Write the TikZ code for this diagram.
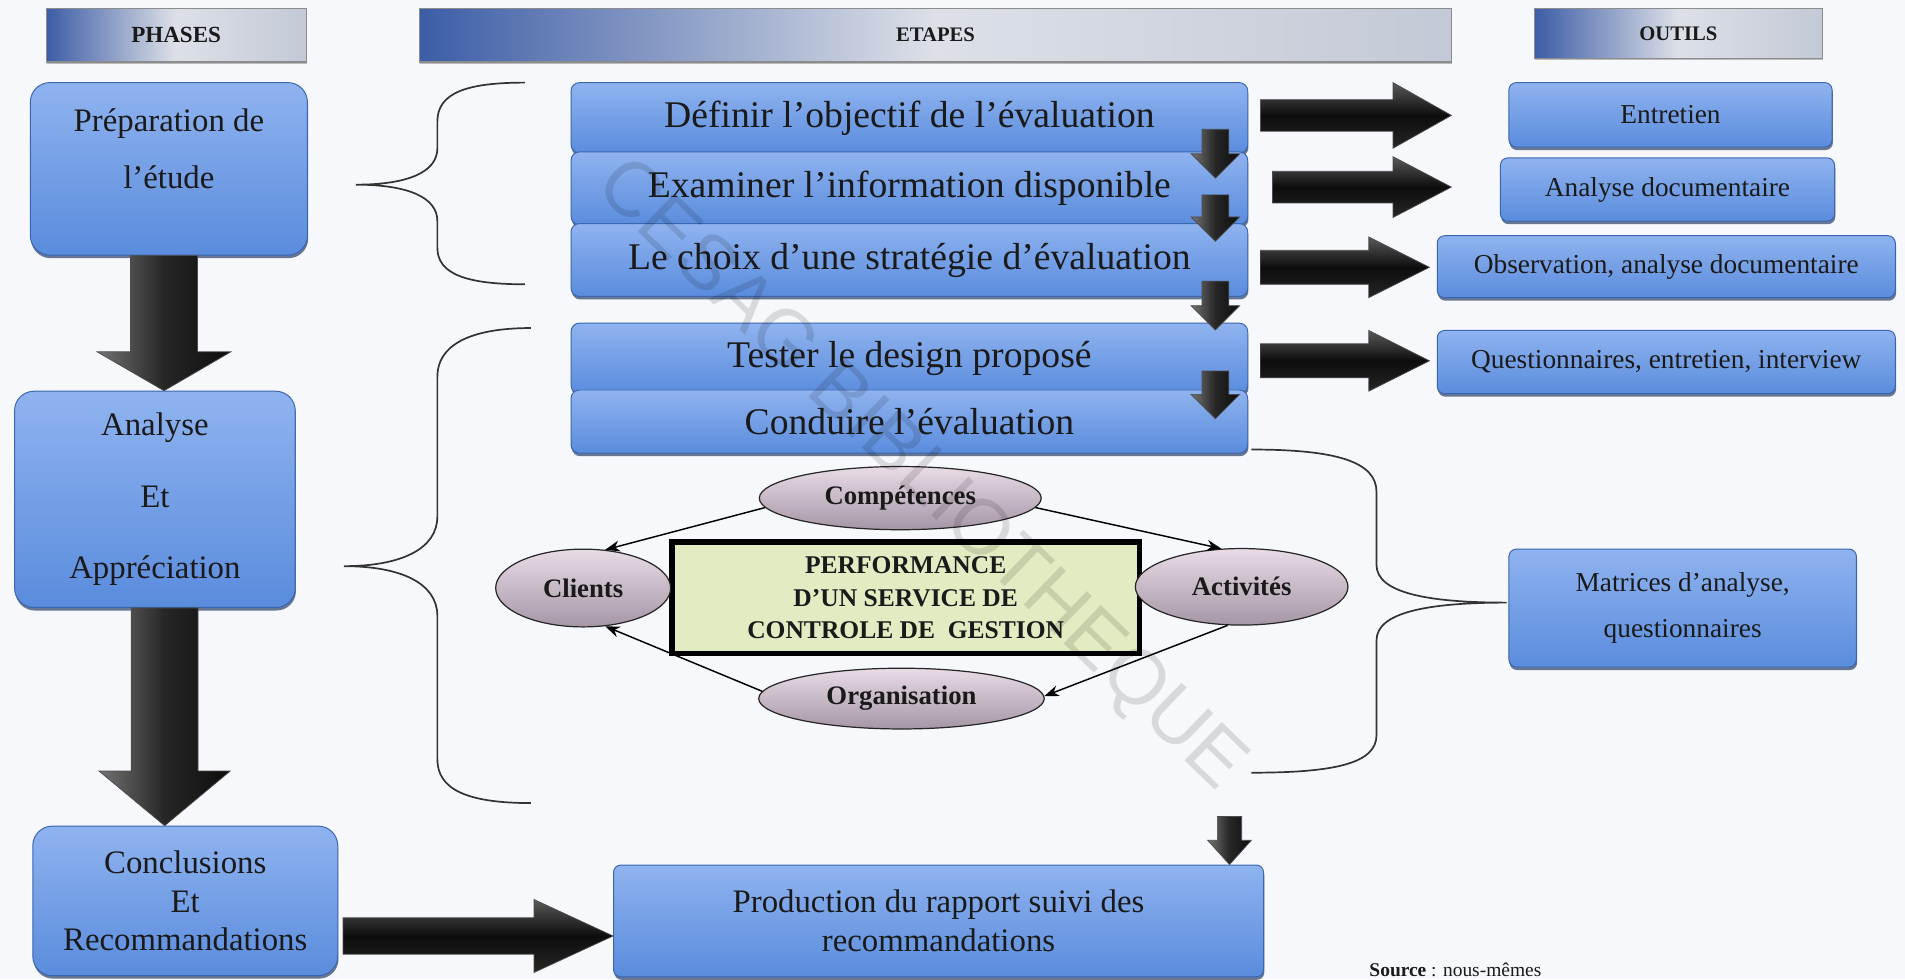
\documentclass[tikz,border=0pt]{standalone}
\usepackage{fontspec}
\setmainfont{Liberation Serif}
\newfontfamily\wmfont{Liberation Sans}
\usetikzlibrary{shapes.geometric,arrows.meta,shadows,calc}
\definecolor{bgcol}{HTML}{F6F8FB}
\definecolor{boxtop}{HTML}{8FB3EF}
\definecolor{boxbot}{HTML}{5A8CDD}
\definecolor{boxline}{HTML}{3A66B0}
\definecolor{shadowcol}{HTML}{2B3F66}
\definecolor{hdrblue}{HTML}{3C5DA6}
\definecolor{hdrlight}{HTML}{DDE0E7}
\definecolor{hdrgray}{HTML}{C3C9D6}
\definecolor{elltop}{HTML}{E8DCE7}
\definecolor{ellbot}{HTML}{A596A5}
\definecolor{perfgreen}{HTML}{E2ECC2}
\definecolor{txt}{HTML}{1A1A1A}
% block arrows: #2 start, #3 end, #4 shaft half width, #5 head half width, #6 head length
\newcommand{\blkdown}[6][varrow]{%
  \path[#1] let \p1=#2, \p2=#3 in
    (\x1-#4pt,\y1) -- (\x1-#4pt,\y2+#6pt) -- (\x1-#5pt,\y2+#6pt) -- (\x1,\y2)
    -- (\x1+#5pt,\y2+#6pt) -- (\x1+#4pt,\y2+#6pt) -- (\x1+#4pt,\y1) -- cycle;}
\newcommand{\blkright}[6][harrow]{%
  \path[#1] let \p1=#2, \p2=#3 in
    (\x1,\y1+#4pt) -- (\x2-#6pt,\y1+#4pt) -- (\x2-#6pt,\y1+#5pt) -- (\x2,\y1)
    -- (\x2-#6pt,\y1-#5pt) -- (\x2-#6pt,\y1-#4pt) -- (\x1,\y1-#4pt) -- cycle;}
\begin{document}
\begin{tikzpicture}[x=1pt,y=-1pt,
  every node/.style={text=txt},
  bluebox/.style={rectangle, draw=boxline, line width=0.8pt, top color=boxtop, bottom color=boxbot,
    inner sep=0pt, align=center,
    drop shadow={shadow xshift=0.6pt, shadow yshift=-2.5pt, fill=shadowcol, opacity=0.7}},
  phasebox/.style={bluebox, rounded corners=16pt},
  stepbox/.style={bluebox, rounded corners=7pt, minimum width=557pt, font=\fontsize{31}{34}\selectfont},
  toolbox/.style={bluebox, rounded corners=6pt, font=\fontsize{22.5}{38}\selectfont},
  hdr/.style={rectangle, draw=black!45, line width=1pt, left color=hdrblue, right color=hdrgray,
    middle color=hdrlight, inner sep=0pt, font=\bfseries\fontsize{17}{20}\selectfont,
    drop shadow={shadow xshift=0.5pt, shadow yshift=-1.5pt, fill=black!50, opacity=0.5}},
  ell/.style={ellipse, draw=black!85, line width=1pt, top color=elltop, bottom color=ellbot,
    inner sep=0pt, font=\bfseries\fontsize{22}{24}\selectfont},
  perf/.style={rectangle, draw=black, line width=4.5pt, fill=perfgreen, inner sep=0pt, align=center,
    font=\bfseries\fontsize{21}{26.5}\selectfont},
  link/.style={draw=black, line width=1.2pt, -{Stealth[length=12pt,width=9pt]}},
  brace/.style={draw=black!80, line width=1.4pt},
  varrow/.style={left color=black!55, right color=black!95, middle color=black!85, draw=black!70, line width=0.6pt},
  harrow/.style={top color=black!65, bottom color=black!85, middle color=black!95, draw=black!70, line width=0.6pt},
]
\useasboundingbox (0,0) rectangle (1568,806);
\fill[bgcol] (0,0) rectangle (1568,806);

% headers
\node[hdr, minimum width=214pt, minimum height=44pt, font=\bfseries\fontsize{19}{22}\selectfont] (hphase) at (145,29) {PHASES};
\node[hdr, minimum width=850pt, minimum height=44pt] (hetape) at (770,29) {ETAPES};
\node[hdr, minimum width=237pt, minimum height=41pt] (houtil) at (1381.5,27.5) {OUTILS};

% phases
\node[phasebox, minimum width=228pt, minimum height=142pt] (p1) at (139,139) {};
\node[align=center, inner sep=0pt, font=\fontsize{27}{47}\selectfont] (p1t) at (139,122.5) {Préparation de\\l’étude};
\node[phasebox, minimum width=231pt, minimum height=178pt, font=\fontsize{27}{59}\selectfont] (p2) at (127.5,411) {Analyse\\Et\\Appréciation};
\node[phasebox, minimum width=251pt, minimum height=123pt, font=\fontsize{27}{31.5}\selectfont] (p3) at (152.5,741.5) {Conclusions\\Et\\Recommandations};

% steps
\node[stepbox, minimum height=58pt] (s1) at (748.5,97) {Définir l’objectif de l’évaluation};
\node[stepbox, minimum height=60pt] (s2) at (748.5,155) {Examiner l’information disponible};
\node[stepbox, minimum height=60pt] (s3) at (748.5,214) {Le choix d’une stratégie d’évaluation};
\node[stepbox, minimum height=58pt] (s4) at (748.5,295) {Tester le design proposé};
\node[stepbox, minimum height=52pt] (s5) at (748.5,347) {Conduire l’évaluation};

% tools
\node[toolbox, minimum width=266pt, minimum height=53pt] (o1) at (1375,94.5) {Entretien};
\node[toolbox, minimum width=275pt, minimum height=52pt] (o2) at (1372.5,156) {Analyse documentaire};
\node[toolbox, minimum width=377pt, minimum height=51pt] (o3) at (1371.5,219.5) {Observation, analyse documentaire};
\node[toolbox, minimum width=377pt, minimum height=52pt] (o4) at (1371.5,298) {Questionnaires, entretien, interview};
\node[toolbox, minimum width=286pt, minimum height=97pt] (o5) at (1385,500.5) {Matrices d’analyse,\\questionnaires};

% report
\node[bluebox, rounded corners=6pt, minimum width=535pt, minimum height=92pt, font=\fontsize{27}{32}\selectfont] (prod) at (772.5,758) {Production du rapport suivi des\\recommandations};

% central diagram
\node[perf, minimum width=385pt, minimum height=92pt] (perf) at (745.5,492) {PERFORMANCE\\D’UN SERVICE DE\\CONTROLE DE\ \ GESTION};
\node[ell, minimum width=232pt, minimum height=52pt] (comp) at (741,410) {Compétences};
\node[ell, minimum width=144pt, minimum height=64pt] (cli) at (480,484) {Clients};
\node[ell, minimum width=175pt, minimum height=63pt] (act) at (1022,483) {Activités};
\node[ell, minimum width=235pt, minimum height=50pt] (org) at (742,575) {Organisation};

\draw[link] (comp.184) -- (cli.60);
\draw[link] (comp.356) -- (act.118);
\draw[link] (act.250) -- (org.1);
\draw[link] (org.177) -- (cli.300);

% braces
\draw[brace] (432,68) .. controls (385,68) and (360,76) .. (360,100) -- (360,122)
  .. controls (360,142) and (335,152) .. (293,152)
  .. controls (335,152) and (360,162) .. (360,182) -- (360,204)
  .. controls (360,226) and (385,234) .. (432,234);
\draw[brace] (437,270) .. controls (385,270) and (360,285) .. (360,310) -- (360,425)
  .. controls (360,452) and (330,466) .. (283,466)
  .. controls (330,466) and (360,480) .. (360,507) -- (360,625)
  .. controls (360,650) and (385,661) .. (437,661);
\draw[brace] (1030,370) .. controls (1100,370) and (1133,380) .. (1133,405) -- (1133,465)
  .. controls (1133,488) and (1175,496) .. (1240,496)
  .. controls (1175,496) and (1133,504) .. (1133,527) -- (1133,605)
  .. controls (1133,628) and (1100,636) .. (1030,636);

% big phase arrows
\blkdown{($(p1.south)+(-4,0)$)}{(p2.north)}{27.5}{55}{32}
\blkdown{($(p2.south)+(8,0)$)}{(p3.north)}{27.5}{54}{45}
\blkright{($(p3.south east)+(4,-33)$)}{(prod.west)}{15}{30}{65}

% small step arrows
\blkdown{($(s1.south east)+(-27,-20)$)}{($(s2.north east)+(-27,22)$)}{11}{20}{20}
\blkdown{($(s2.south east)+(-27,-25)$)}{($(s3.north east)+(-27,15)$)}{11}{20}{20}
\blkdown{($(s3.south east)+(-27,-13)$)}{($(s4.north east)+(-27,6)$)}{11}{20}{20}
\blkdown{($(s4.south east)+(-27,-19)$)}{($(s5.north east)+(-27,24)$)}{11}{20}{20}
\coordinate (a5top) at (1012,672);
\blkdown{(a5top)}{($(prod.north east)+(-28,0)$)}{10}{18}{20}

% step -> tool arrows
\blkright{($(s1.east)+(10,-2)$)}{($(o1.west)+(-47,0)$)}{13}{27}{48}
\blkright{($(s2.east)+(20,-1)$)}{($(o2.west)+(-40,0)$)}{13}{25}{48}
\blkright{($(s3.east)+(10,6)$)}{($(o3.west)+(-6,0)$)}{14}{25}{50}
\blkright{($(s4.east)+(10,2)$)}{($(o4.west)+(-6,0)$)}{14}{25}{50}

% source
\node[anchor=base west, inner sep=0pt, font=\fontsize{16}{18}\selectfont] (src) at (1127,804) {\textbf{Source} : nous-mêmes};

% watermark
\node[rotate=-44, inner sep=0pt, font=\wmfont\fontsize{64}{64}\selectfont, text=black, text opacity=0.12] (wm) at (757,392) {CESAG BIBLIOTHEQUE};
\end{tikzpicture}
\end{document}
